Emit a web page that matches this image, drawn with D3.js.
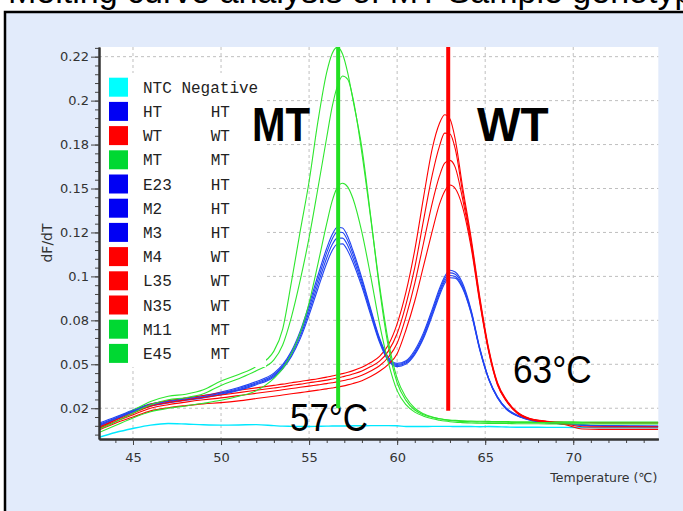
<!DOCTYPE html>
<html lang="en">
<head>
<meta charset="UTF-8">
<script src="https://cdnjs.cloudflare.com/ajax/libs/d3/7.8.5/d3.min.js"></script>
<title>Melting curve</title>
<style>
	body { margin: 0; background: #fff; }
	svg { display: block; }
</style>
</head>
<body>
<div id="draw-here"></div>
<script>
/* temperatures (deg C) shared by every curve */
var temps = [43.07, 44, 45, 46, 47, 48, 49, 50, 51, 52,
	53, 53.5, 54, 54.5, 55, 55.5, 56, 56.3, 56.6, 56.9,
	57.2, 57.5, 58, 58.5, 59, 59.5, 60, 60.5, 61, 61.5,
	62, 62.4, 62.7, 63, 63.3, 63.7, 64.2, 64.7, 65.2, 65.7,
	66.2, 66.8, 67.5, 68.5, 69.5, 70.5, 71.5, 72.5, 73.5, 74.83];

/* dF/dT values, one array per sample */
var ntcVals = [0.0035, 0.0062, 0.0085, 0.0104, 0.0113, 0.0110, 0.0106, 0.0104, 0.0105, 0.0107,
	0.0101, 0.0098, 0.0097, 0.0096, 0.0096, 0.0097, 0.0098, 0.0099, 0.0099, 0.0099,
	0.0099, 0.0100, 0.0100, 0.0101, 0.0101, 0.0101, 0.0100, 0.0096, 0.0096, 0.0096,
	0.0097, 0.0097, 0.0097, 0.0097, 0.0096, 0.0096, 0.0096, 0.0095, 0.0096, 0.0095,
	0.0093, 0.0092, 0.0092, 0.0091, 0.0091, 0.0090, 0.0089, 0.0089, 0.0089, 0.0089];
var htVals = [0.0115, 0.0150, 0.0190, 0.0225, 0.0242, 0.0258, 0.0272, 0.0292, 0.0318, 0.0352,
	0.0400, 0.0448, 0.0525, 0.0640, 0.0790, 0.0955, 0.1110, 0.1185, 0.1230, 0.1225,
	0.1175, 0.1095, 0.0940, 0.0765, 0.0600, 0.0490, 0.0455, 0.0470, 0.0530, 0.0630,
	0.0765, 0.0880, 0.0950, 0.0985, 0.0975, 0.0915, 0.0760, 0.0540, 0.0370, 0.0265,
	0.0200, 0.0162, 0.0138, 0.0120, 0.0112, 0.0106, 0.0102, 0.0100, 0.0099, 0.0098];
var wtVals = [0.0100, 0.0140, 0.0180, 0.0222, 0.0242, 0.0258, 0.0272, 0.0288, 0.0302, 0.0316,
	0.0330, 0.0337, 0.0345, 0.0352, 0.0360, 0.0368, 0.0377, 0.0383, 0.0390, 0.0397,
	0.0405, 0.0414, 0.0433, 0.0460, 0.0495, 0.0560, 0.0680, 0.0860, 0.1100, 0.1400,
	0.1680, 0.1820, 0.1870, 0.1845, 0.1730, 0.1470, 0.1170, 0.0830, 0.0540, 0.0345,
	0.0250, 0.0180, 0.0143, 0.0126, 0.0120, 0.0119, 0.0118, 0.0118, 0.0118, 0.0118];
var mtVals = [0.0088, 0.0135, 0.0188, 0.0238, 0.0268, 0.0280, 0.0305, 0.0355, 0.0392, 0.0438,
	0.0525, 0.0650, 0.0920, 0.1210, 0.1490, 0.1830, 0.2110, 0.2215, 0.2254, 0.2215,
	0.2105, 0.1950, 0.1680, 0.1290, 0.0880, 0.0550, 0.0345, 0.0245, 0.0190, 0.0163,
	0.0148, 0.0140, 0.0136, 0.0133, 0.0131, 0.0129, 0.0127, 0.0126, 0.0125, 0.0124,
	0.0124, 0.0123, 0.0123, 0.0123, 0.0123, 0.0122, 0.0122, 0.0122, 0.0122, 0.0122];
var e23Vals = [0.0108, 0.0145, 0.0186, 0.0220, 0.0238, 0.0253, 0.0267, 0.0286, 0.0312, 0.0345,
	0.0392, 0.0440, 0.0515, 0.0625, 0.0770, 0.0930, 0.1085, 0.1160, 0.1203, 0.1200,
	0.1152, 0.1075, 0.0925, 0.0755, 0.0592, 0.0482, 0.0449, 0.0464, 0.0520, 0.0618,
	0.0752, 0.0866, 0.0937, 0.0970, 0.0962, 0.0903, 0.0752, 0.0536, 0.0368, 0.0262,
	0.0198, 0.0160, 0.0136, 0.0119, 0.0111, 0.0105, 0.0101, 0.0099, 0.0098, 0.0097];
var m2Vals = [0.0102, 0.0140, 0.0182, 0.0216, 0.0234, 0.0249, 0.0263, 0.0281, 0.0306, 0.0339,
	0.0385, 0.0432, 0.0505, 0.0610, 0.0750, 0.0905, 0.1055, 0.1128, 0.1168, 0.1168,
	0.1125, 0.1052, 0.0908, 0.0742, 0.0583, 0.0476, 0.0443, 0.0457, 0.0512, 0.0607,
	0.0740, 0.0853, 0.0923, 0.0955, 0.0950, 0.0893, 0.0745, 0.0532, 0.0366, 0.0260,
	0.0196, 0.0158, 0.0134, 0.0118, 0.0110, 0.0104, 0.0100, 0.0098, 0.0097, 0.0096];
var m3Vals = [0.0096, 0.0135, 0.0178, 0.0212, 0.0230, 0.0245, 0.0259, 0.0277, 0.0301, 0.0333,
	0.0378, 0.0424, 0.0495, 0.0596, 0.0730, 0.0880, 0.1025, 0.1095, 0.1133, 0.1135,
	0.1095, 0.1028, 0.0890, 0.0730, 0.0575, 0.0470, 0.0437, 0.0451, 0.0505, 0.0598,
	0.0728, 0.0840, 0.0910, 0.0942, 0.0940, 0.0885, 0.0740, 0.0528, 0.0363, 0.0258,
	0.0194, 0.0157, 0.0133, 0.0117, 0.0109, 0.0103, 0.0099, 0.0097, 0.0096, 0.0095];
var m4Vals = [0.0092, 0.0132, 0.0172, 0.0212, 0.0232, 0.0247, 0.0261, 0.0275, 0.0289, 0.0302,
	0.0315, 0.0322, 0.0330, 0.0337, 0.0345, 0.0352, 0.0360, 0.0366, 0.0372, 0.0379,
	0.0386, 0.0395, 0.0412, 0.0437, 0.0468, 0.0525, 0.0625, 0.0790, 0.1000, 0.1270,
	0.1530, 0.1690, 0.1765, 0.1760, 0.1675, 0.1440, 0.1150, 0.0815, 0.0532, 0.0340,
	0.0246, 0.0177, 0.0141, 0.0125, 0.0119, 0.0118, 0.0117, 0.0117, 0.0117, 0.0117];
var l35Vals = [0.0085, 0.0124, 0.0163, 0.0200, 0.0220, 0.0235, 0.0248, 0.0259, 0.0272, 0.0285,
	0.0298, 0.0305, 0.0312, 0.0319, 0.0326, 0.0333, 0.0340, 0.0345, 0.0350, 0.0356,
	0.0363, 0.0371, 0.0388, 0.0412, 0.0442, 0.0490, 0.0570, 0.0720, 0.0910, 0.1140,
	0.1370, 0.1520, 0.1595, 0.1610, 0.1570, 0.1400, 0.1135, 0.0805, 0.0525, 0.0335,
	0.0243, 0.0175, 0.0140, 0.0123, 0.0112, 0.0095, 0.0094, 0.0094, 0.0094, 0.0094];
var n35Vals = [0.0076, 0.0115, 0.0150, 0.0185, 0.0203, 0.0215, 0.0225, 0.0232, 0.0242, 0.0255,
	0.0268, 0.0275, 0.0282, 0.0289, 0.0296, 0.0303, 0.0310, 0.0315, 0.0320, 0.0326,
	0.0333, 0.0341, 0.0357, 0.0380, 0.0410, 0.0450, 0.0510, 0.0645, 0.0810, 0.1010,
	0.1210, 0.1360, 0.1435, 0.1470, 0.1450, 0.1350, 0.1115, 0.0795, 0.0520, 0.0332,
	0.0240, 0.0173, 0.0138, 0.0121, 0.0108, 0.0082, 0.0080, 0.0080, 0.0080, 0.0080];
var m11Vals = [0.0080, 0.0122, 0.0172, 0.0220, 0.0248, 0.0260, 0.0282, 0.0330, 0.0368, 0.0413,
	0.0475, 0.0560, 0.0720, 0.0930, 0.1170, 0.1450, 0.1740, 0.1910, 0.2030, 0.2090,
	0.2070, 0.1960, 0.1650, 0.1280, 0.0900, 0.0580, 0.0370, 0.0262, 0.0200, 0.0168,
	0.0150, 0.0140, 0.0134, 0.0130, 0.0127, 0.0125, 0.0123, 0.0122, 0.0121, 0.0120,
	0.0120, 0.0119, 0.0119, 0.0118, 0.0118, 0.0118, 0.0117, 0.0117, 0.0117, 0.0117];
var e45Vals = [0.0062, 0.0102, 0.0145, 0.0180, 0.0200, 0.0213, 0.0228, 0.0245, 0.0268, 0.0300,
	0.0370, 0.0425, 0.0510, 0.0630, 0.0800, 0.1020, 0.1250, 0.1375, 0.1455, 0.1480,
	0.1458, 0.1390, 0.1200, 0.0950, 0.0680, 0.0460, 0.0300, 0.0220, 0.0178, 0.0155,
	0.0140, 0.0132, 0.0127, 0.0123, 0.0120, 0.0118, 0.0116, 0.0115, 0.0114, 0.0113,
	0.0113, 0.0112, 0.0112, 0.0111, 0.0111, 0.0111, 0.0110, 0.0110, 0.0110, 0.0110];

/* legend: sample name, genotype call */
var sampleNames = ["NTC Negative", "HT", "WT", "MT", "E23", "M2", "M3", "M4", "L35", "N35", "M11", "E45"];
var sampleCalls = ["", "HT", "WT", "MT", "HT", "HT", "HT", "WT", "WT", "WT", "MT", "MT"];
var sampleGroups = ["NTC", "HT", "WT", "MT", "HT", "HT", "HT", "WT", "WT", "WT", "MT", "MT"];
var sampleVals = [ntcVals, htVals, wtVals, mtVals, e23Vals, m2Vals, m3Vals, m4Vals, l35Vals, n35Vals, m11Vals, e45Vals];

/* axis ticks */
var xTicks = [45, 50, 55, 60, 65, 70];
var yTickVals = [0.02, 0.045, 0.07, 0.095, 0.12, 0.145, 0.17, 0.195, 0.22];
var yTickLabels = ["0.02", "0.05", "0.08", "0.1", "0.12", "0.15", "0.18", "0.2", "0.22"];

/* melting peaks */
var peakTemps = [56.65, 62.9];
var peakBottoms = [0.02, 0.0185];
var peakLabels = ["57\u00B0C", "63\u00B0C"];

/*Size of chart (plot box edges in pixels)*/
var w = 683, h = 511;
var plotL = 99, plotR = 658.3, plotT = 47, plotB = 439;

var lineColor = { NTC: "#00e8ff", HT: "#2244f2", WT: "#ff0000", MT: "#2ee62e" };
var swatchColor = { NTC: "#00ffff", HT: "#0000f4", WT: "#ff0000", MT: "#00d832" };

var svg = d3.select("#draw-here")
	.append("svg")
	.attr("width", w)
	.attr("height", h);

/* cut-off title above the frame */
svg.append("text")
	.attr("x", 8)
	.attr("y", 3)
	.attr("font-family", "Liberation Sans, Arial, sans-serif")
	.attr("font-size", "34px")
	.attr("fill", "#000")
	.text("Melting curve analysis of MT Sample genotypes");

/* panel frame */
svg.append("rect")
	.attr("x", 5).attr("y", 12)
	.attr("width", 720).attr("height", 540)
	.attr("fill", "#e2ebfb")
	.attr("stroke", "#000")
	.attr("stroke-width", 2.5);

var x = d3.scaleLinear().domain([43.07, 74.83]).range([plotL, plotR]);
var y = d3.scaleLinear().domain([0.0025, 0.2255]).range([plotB, plotT]);

svg.append("rect")
	.attr("x", plotL).attr("y", plotT)
	.attr("width", plotR - plotL).attr("height", plotB - plotT)
	.attr("fill", "#fff");

svg.append("clipPath").attr("id", "plotclip")
	.append("rect")
	.attr("x", plotL).attr("y", plotT)
	.attr("width", plotR - plotL).attr("height", plotB - plotT);

/* dashed grid */
svg.append("g").selectAll("line")
	.data(yTickVals).enter()
	.append("line")
	.attr("x1", plotL).attr("x2", plotR)
	.attr("y1", function(d) { return y(d); })
	.attr("y2", function(d) { return y(d); })
	.attr("stroke", "#bfbfbf")
	.attr("stroke-dasharray", "3,3");
svg.append("g").selectAll("line")
	.data(xTicks).enter()
	.append("line")
	.attr("y1", plotT).attr("y2", plotB)
	.attr("x1", function(d) { return x(d); })
	.attr("x2", function(d) { return x(d); })
	.attr("stroke", "#bfbfbf")
	.attr("stroke-dasharray", "3,3");

/* curves */
var line = d3.line()
	.x(function(d, i) { return x(temps[i]); })
	.y(function(d) { return y(d); })
	.curve(d3.curveMonotoneX);

svg.append("g")
	.attr("clip-path", "url(#plotclip)")
	.selectAll("path")
	.data(sampleVals).enter()
	.append("path")
	.attr("d", function(d) { return line(d); })
	.attr("fill", "none")
	.attr("stroke", function(d, i) { return lineColor[sampleGroups[i]]; })
	.attr("stroke-width", function(d, i) { return sampleGroups[i] == "NTC" ? 1.4 : 1.1; });

/* legend, on a white box that hides what is under it */
svg.append("rect")
	.attr("x", plotL).attr("y", 73)
	.attr("width", 167).attr("height", 294)
	.attr("fill", "#fff");

var rowH = 24.2, row0 = 77.7;
var leg = svg.append("g").selectAll("g")
	.data(sampleNames).enter()
	.append("g")
	.attr("transform", function(d, i) { return "translate(0," + (row0 + i * rowH) + ")"; });
leg.append("rect")
	.attr("x", 109).attr("y", 0)
	.attr("width", 19).attr("height", 19)
	.attr("fill", function(d, i) { return swatchColor[sampleGroups[i]]; });
leg.append("text")
	.attr("x", 143).attr("y", 15)
	.attr("font-family", "Liberation Mono, Courier New, monospace")
	.attr("font-size", "16px")
	.attr("fill", "#222")
	.text(function(d) { return d; });
leg.append("text")
	.attr("x", 210.7).attr("y", 15)
	.attr("font-family", "Liberation Mono, Courier New, monospace")
	.attr("font-size", "16px")
	.attr("fill", "#222")
	.text(function(d, i) { return sampleCalls[i]; });

/* big annotations */
var big = "Liberation Sans, Arial, sans-serif";
svg.append("text").attr("x", 252).attr("y", 140.5)
	.attr("font-family", big).attr("font-size", "48px").attr("font-weight", "bold")
	.attr("textLength", 58).attr("lengthAdjust", "spacingAndGlyphs")
	.text("MT");
svg.append("text").attr("x", 477).attr("y", 140.7)
	.attr("font-family", big).attr("font-size", "48px").attr("font-weight", "bold")
	.attr("textLength", 71.5).attr("lengthAdjust", "spacingAndGlyphs")
	.text("WT");
svg.append("text").attr("x", 290).attr("y", 430.7)
	.attr("font-family", big).attr("font-size", "38.5px")
	.attr("textLength", 78).attr("lengthAdjust", "spacingAndGlyphs")
	.text(peakLabels[0]);
svg.append("text").attr("x", 513).attr("y", 382.7)
	.attr("font-family", big).attr("font-size", "38.5px")
	.attr("textLength", 78.7).attr("lengthAdjust", "spacingAndGlyphs")
	.text(peakLabels[1]);

/* vertical peak markers */
svg.append("g").selectAll("line")
	.data(peakTemps).enter()
	.append("line")
	.attr("x1", function(d) { return x(d); })
	.attr("x2", function(d) { return x(d); })
	.attr("y1", y(0.2255))
	.attr("y2", function(d, i) { return y(peakBottoms[i]); })
	.attr("stroke", function(d, i) { return i == 0 ? "#22e022" : "#ff0000"; })
	.attr("stroke-width", 4);

/* axes */
var tickFont = "DejaVu Sans, Verdana, sans-serif";
var yAxis = d3.axisLeft(y)
	.tickValues(yTickVals)
	.tickFormat(function(d, i) { return yTickLabels[i]; })
	.tickSize(8).tickSizeOuter(0).tickPadding(2);
var yMinor = d3.axisLeft(y)
	.tickValues(d3.range(0.005, 0.2251, 0.005))
	.tickFormat("").tickSize(4).tickSizeOuter(0);
var xAxis = d3.axisBottom(x)
	.tickValues(xTicks)
	.tickSize(6).tickSizeOuter(0).tickPadding(8);
var xMinor = d3.axisBottom(x)
	.tickValues(d3.range(44, 75, 1))
	.tickFormat("").tickSize(4).tickSizeOuter(0);

function styleAxis(g) {
	g.select(".domain").attr("stroke", "#333").attr("stroke-width", 2);
	g.selectAll(".tick line").attr("stroke", "#444");
	g.selectAll("text").attr("font-family", tickFont).attr("font-size", "13px").attr("fill", "#333");
}
svg.append("g").attr("transform", "translate(" + plotL + ",0)").call(yMinor).call(styleAxis);
svg.append("g").attr("transform", "translate(" + plotL + ",0)").call(yAxis).call(styleAxis);
svg.append("g").attr("transform", "translate(0," + plotB + ")").call(xMinor).call(styleAxis);
svg.append("g").attr("transform", "translate(0," + plotB + ")").call(xAxis).call(styleAxis);

/* axis titles */
svg.append("text")
	.attr("x", 657.3).attr("y", 482)
	.attr("text-anchor", "end")
	.attr("font-family", tickFont).attr("font-size", "12.5px").attr("fill", "#333")
	.text("Temperature (\u2103)");
svg.append("text")
	.attr("transform", "translate(52,243) rotate(-90)")
	.attr("text-anchor", "middle")
	.attr("font-family", tickFont).attr("font-size", "14px").attr("fill", "#333")
	.text("dF/dT");
</script>
</body>
</html>
